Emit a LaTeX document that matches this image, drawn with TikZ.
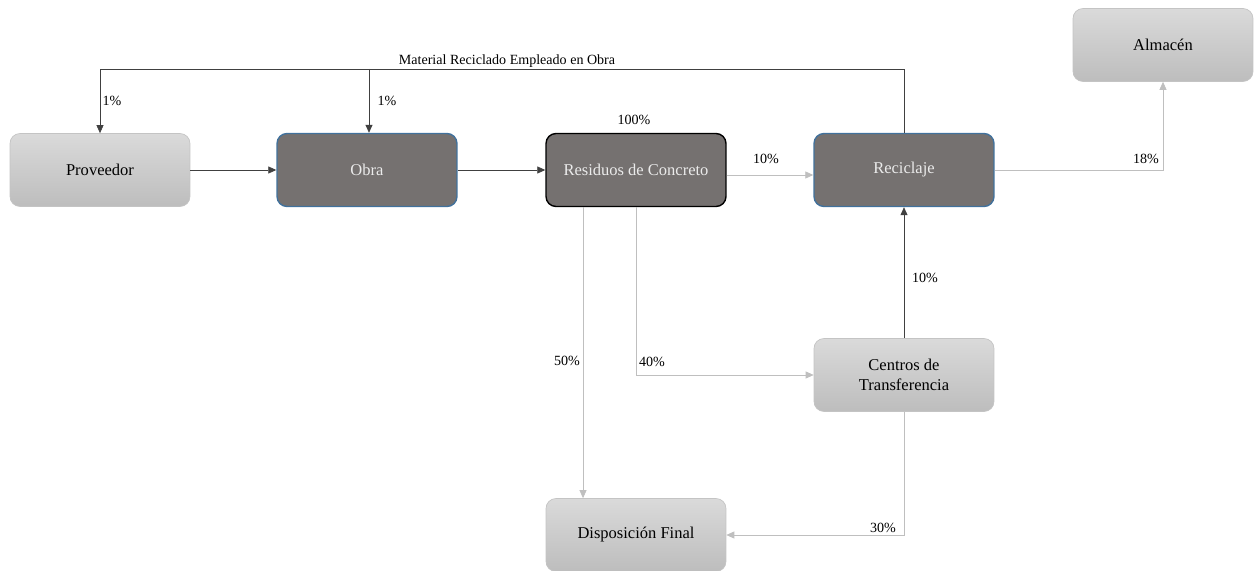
\documentclass[tikz,border=0pt]{standalone}
\usepackage{fontspec}
\setmainfont{Liberation Serif}
\newfontfamily\boxfont{Liberation Serif}
\usetikzlibrary{arrows.meta}

\definecolor{boxdark}{HTML}{757170}
\definecolor{boxblue}{HTML}{41719C}
\definecolor{boxlighttop}{HTML}{DADADA}
\definecolor{boxlightbot}{HTML}{BDBDBD}
\definecolor{boxlightline}{HTML}{C4C4C4}
\definecolor{flowgray}{HTML}{BFBFBF}

\begin{document}
\begin{tikzpicture}[x=0.02cm, y=-0.02cm]
	\tikzstyle{box_light} = [rectangle, rounded corners=0.2cm, minimum width=3.6cm, minimum height=1.46cm, align=center, draw=boxlightline, top color=boxlighttop, bottom color=boxlightbot, font=\boxfont\fontsize{9.4}{11}\selectfont]
	\tikzstyle{box_dark} = [rectangle, rounded corners=0.2cm, minimum width=3.6cm, minimum height=1.46cm, align=center, draw=boxblue, thick, fill=boxdark, text=white!92!black, font=\boxfont\fontsize{9.4}{11}\selectfont]
	\tikzstyle{flow_black} = [-{Triangle[length=1.6mm, width=1.4mm]}, black!75]
	\tikzstyle{flow_gray} = [-{Triangle[length=1.6mm, width=1.4mm]}, flowgray]
	\tikzstyle{pct} = [font=\boxfont\fontsize{8}{9.6}\selectfont, inner sep=0pt]

	\useasboundingbox (0,0) rectangle (1258,571);

%------------------------------------------------------------
	\node[box_light] (prov) at (100,170) {Proveedor};
	\node[box_dark]  (obra) at (367,170) {Obra};
	\node[box_dark, draw=black] (res) at (636,170) {Residuos de Concreto};
	\node[box_dark]  (rec)  at (904,170) {Reciclaje};
	\node[box_light] (alm)  at (1163,45) {Almacén};
	\node[box_light] (cen)  at (904,375) {Centros de\\Transferencia};
	\node[box_light] (disp) at (636,535) {Disposición Final};

%------------------------------------------------------------
	\draw[flow_black] (prov) -- (obra);
	\draw[flow_black] (obra) -- (res);
	\draw[flow_gray] ([yshift=-0.1cm]res.east) -- ([yshift=-0.1cm]rec.west);
	\draw[flow_gray] (rec.east) -| (alm.south);
	\draw[flow_black] (cen.north) -- (rec.south);
	\draw[flow_gray] ([xshift=-1.06cm]res.south) -- ([xshift=-1.06cm]disp.north);
	\draw[flow_gray] (res.south) |- (cen.west);
	\draw[flow_gray] (cen.south) |- (disp.east);

%------------------------------------------------------------
	\coordinate (top) at (904,69);
	\draw[flow_black] (rec.north) -- (top) -| (prov.north);
	\draw[flow_black] ([xshift=0.04cm]obra.north |- top) -- ([xshift=0.04cm]obra.north);

%------------------------------------------------------------
	\node[pct] (lmat) at (507,61) {Material Reciclado Empleado en Obra};
	\node[pct] (l1a)  at (112,101) {1\%};
	\node[pct] (l1b)  at (387,101) {1\%};
	\node[pct] (l100) at (634,120) {100\%};
	\node[pct] (l10a) at (766,159) {10\%};
	\node[pct] (l18)  at (1146,159) {18\%};
	\node[pct] (l10b) at (925,278) {10\%};
	\node[pct] (l50)  at (567,361) {50\%};
	\node[pct] (l40)  at (652,362) {40\%};
	\node[pct] (l30)  at (883,528) {30\%};
\end{tikzpicture}
\end{document}
